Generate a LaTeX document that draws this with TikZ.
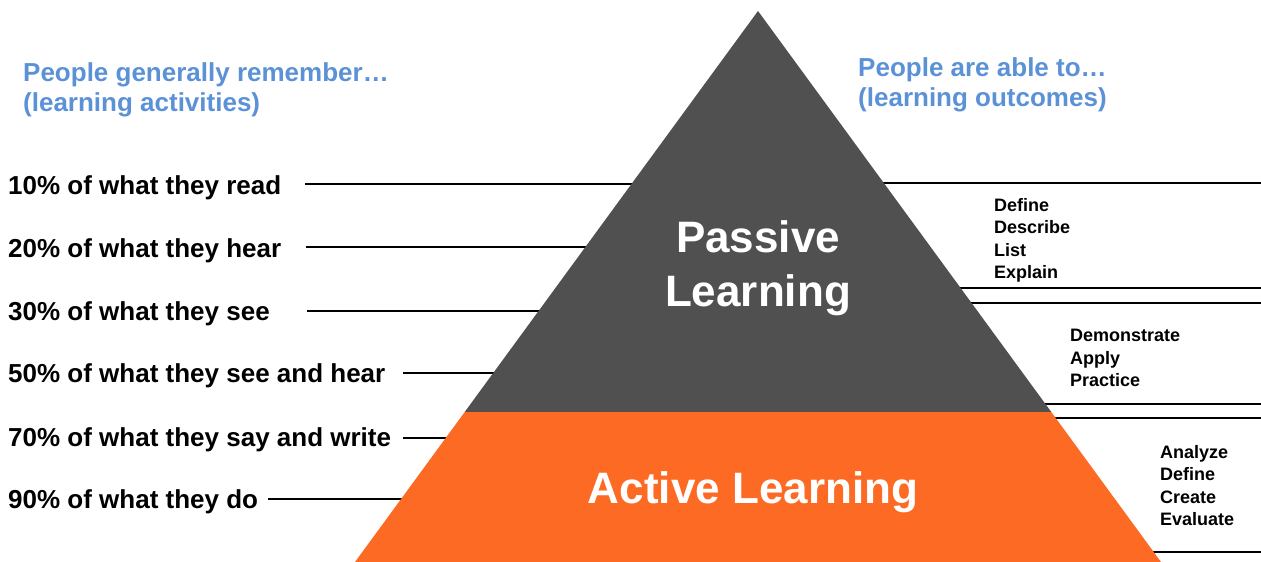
\documentclass[tikz,border=0pt]{standalone}
\usepackage{fontspec}
\setmainfont{Liberation Sans}
\definecolor{pgray}{RGB}{80,80,80}
\definecolor{porange}{RGB}{252,106,35}
\definecolor{pblue}{RGB}{91,145,214}
\begin{document}
\begin{tikzpicture}[x=1pt,y=-1pt,
  lbl/.style={anchor=base west,inner sep=0pt,font=\bfseries\fontsize{26}{30}\selectfont,text=black},
  head/.style={anchor=north west,inner sep=0pt,align=left,font=\bfseries\fontsize{26}{30.5}\selectfont,text=pblue},
  verbs/.style={anchor=north west,inner sep=0pt,align=left,font=\bfseries\fontsize{18}{22.5}\selectfont,text=black},
  big/.style={inner sep=0pt,align=center,font=\bfseries\fontsize{44}{54}\selectfont,text=white},
  rule/.style={draw=black,line width=2.2pt}]
\useasboundingbox (0,0) rectangle (1261,562);
\clip (0,0) rectangle (1261,562);
% headings
\node[head] (hl) at (23,62) {People generally remember…\\(learning activities)};
\node[head] (hr) at (858,57) {People are able to…\\(learning outcomes)};
% left labels
\node[lbl] (l1) at (8,194) {10\% of what they read};
\node[lbl] (l2) at (8,257) {20\% of what they hear};
\node[lbl] (l3) at (8,320) {30\% of what they see};
\node[lbl] (l4) at (8,382) {50\% of what they see and hear};
\node[lbl] (l5) at (8,446) {70\% of what they say and write};
\node[lbl] (l6) at (8,508) {90\% of what they do};
% left line coordinates
\coordinate (a1) at (305,184); \coordinate (b1) at (640,184);
\coordinate (a2) at (306,247); \coordinate (b2) at (595,247);
\coordinate (a3) at (307,311); \coordinate (b3) at (548,311);
\coordinate (a4) at (403,373); \coordinate (b4) at (503,373);
\coordinate (a5) at (403,438); \coordinate (b5) at (455,438);
\coordinate (a6) at (268,499); \coordinate (b6) at (411,499);
\foreach \i in {1,...,6} {\draw[rule] (a\i) -- (b\i);}
% right line coordinates
\coordinate (c1) at (874,183); \coordinate (d1) at (1261,183);
\coordinate (c2) at (951,288); \coordinate (d2) at (1261,288);
\coordinate (c3) at (962,303); \coordinate (d3) at (1261,303);
\coordinate (c4) at (1035,404); \coordinate (d4) at (1261,404);
\coordinate (c5) at (1046,418); \coordinate (d5) at (1261,418);
\coordinate (c6) at (1144,552); \coordinate (d6) at (1261,552);
\foreach \i in {1,...,6} {\draw[rule] (c\i) -- (d\i);}
% pyramid
\coordinate (apex) at (758,11);
\coordinate (bl) at (355,562);
\coordinate (br) at (1161,562);
\coordinate (ml) at (464.7,412);
\coordinate (mr) at (1051.3,412);
\fill[pgray] (apex) -- (mr) -- (ml) -- cycle;
\fill[porange] (ml) -- (mr) -- (br) -- (bl) -- cycle;
\node[big] (passive) at (758,268) {Passive\\Learning};
\node[big] (active) at (753,492) {Active Learning};
% outcome verbs
\node[verbs] (v1) at (994,198) {Define\\Describe\\List\\Explain};
\node[verbs] (v2) at (1070,329) {Demonstrate\\Apply\\Practice};
\node[verbs] (v3) at (1160,445) {Analyze\\Define\\Create\\Evaluate};
\end{tikzpicture}
\end{document}
